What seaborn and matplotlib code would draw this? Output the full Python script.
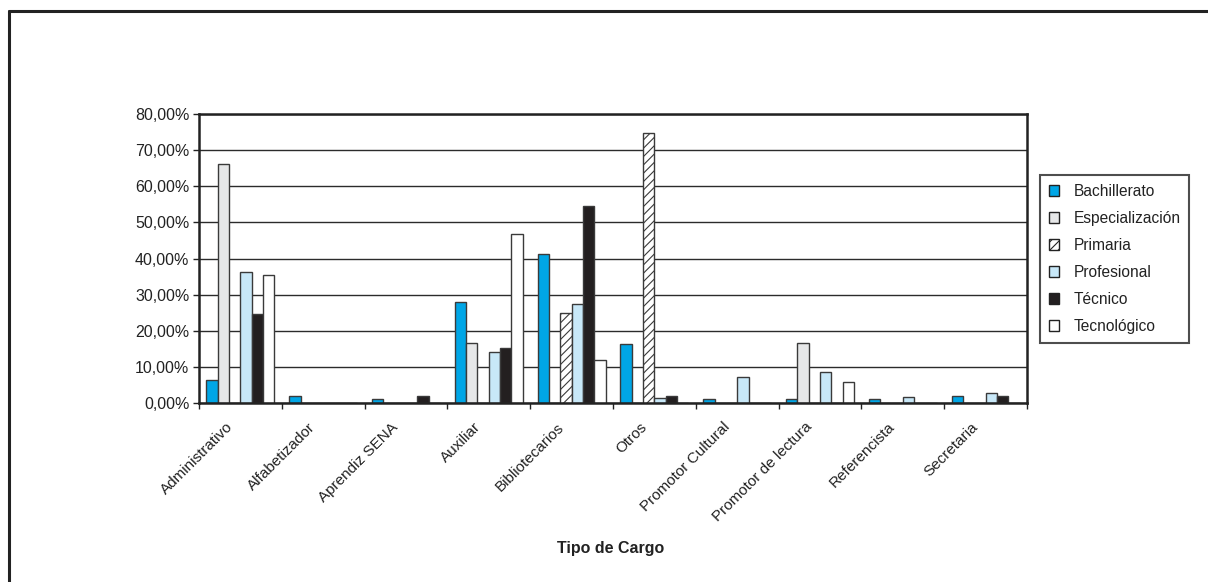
import matplotlib
matplotlib.use("Agg")
import matplotlib.pyplot as plt
import seaborn as sns
import pandas as pd
import numpy as np
from matplotlib.patches import Patch
from matplotlib.lines import Line2D
from matplotlib.ticker import FuncFormatter, FixedLocator

categories = ["Administrativo", "Alfabetizador", "Aprendiz SENA", "Auxiliar",
              "Bibliotecarios", "Otros", "Promotor Cultural", "Promotor de lectura",
              "Referencista", "Secretaria"]
series = ["Bachillerato", "Especialización", "Primaria", "Profesional", "Técnico", "Tecnológico"]

bachillerato    = [6.5, 2.0, 1.1, 27.9, 41.3, 16.3, 1.1, 1.1, 1.1, 2.0]
especializacion = [66.3, 0.0, 0.0, 16.6, 0.0, 0.0, 0.0, 16.6, 0.0, 0.0]
primaria        = [0.0, 0.0, 0.0, 0.0, 25.1, 74.7, 0.0, 0.0, 0.0, 0.0]
profesional     = [36.3, 0.0, 0.0, 14.3, 27.4, 1.4, 7.2, 8.7, 1.7, 2.8]
tecnico         = [24.8, 0.0, 2.1, 15.2, 54.6, 2.1, 0.0, 0.0, 0.0, 2.1]
tecnologico     = [35.5, 0.0, 0.0, 46.9, 12.0, 0.0, 0.0, 5.9, 0.0, 0.0]

colors = ["#00A6E6", "#E6E7E8", "#FFFFFF", "#C8E8F8", "#231F20", "#FFFFFF"]
hatches = ["", "", "////", "", "", ""]

values = [bachillerato, especializacion, primaria, profesional, tecnico, tecnologico]
rows = []
for s, vals in zip(series, values):
    for c, v in zip(categories, vals):
        rows.append({"Tipo de Cargo": c, "Serie": s, "Valor": v})
df = pd.DataFrame(rows)

sns.set_theme(style="white")
plt.rcParams["font.family"] = ["Liberation Sans", "DejaVu Sans"]
plt.rcParams["hatch.color"] = "#555555"
plt.rcParams["hatch.linewidth"] = 0.8

W, H = 1208, 582
fig = plt.figure(figsize=(W / 100, H / 100), dpi=100)
ax = fig.add_axes([199 / W, 1 - 403.3 / H, (1027 - 199) / W, (403.3 - 114) / H])

sns.barplot(data=df, x="Tipo de Cargo", y="Valor", hue="Serie", order=categories,
            hue_order=series, palette=colors, width=0.82, ax=ax,
            edgecolor="#3a3a3a", linewidth=1.0, saturation=1, legend=False, errorbar=None)

n = len(categories)
for i, container in enumerate(ax.containers):
    for bar in container:
        bar.set_hatch(hatches[i])

ax.set_ylim(0, 80)
ax.set_xlim(-0.5, n - 0.5)
ax.set_yticks(np.arange(0, 81, 10))
ax.yaxis.set_major_formatter(FuncFormatter(lambda v, p: f"{v:.2f}%".replace(".", ",")))
ax.yaxis.grid(True, color="#2b2b2b", linewidth=1.0)
ax.set_axisbelow(True)

ax.set_xticks(np.arange(n) - 0.18)
ax.set_xticklabels(categories, rotation=45, ha="right", rotation_mode="anchor",
                   fontsize=11, color="#222222")
ax.tick_params(axis="x", which="major", length=0, pad=12)
ax.xaxis.set_minor_locator(FixedLocator(np.arange(-0.5, n, 1.0)))
ax.tick_params(axis="x", which="minor", length=4, width=1, color="#222222", direction="out", bottom=True)
ax.tick_params(axis="y", length=4, width=1, color="#222222", direction="out", left=True,
               labelsize=11.5, labelcolor="#222222", pad=3)
ax.set_xlabel("")
ax.set_ylabel("")

for sp in ax.spines.values():
    sp.set_visible(True)
    sp.set_color("#222222")
    sp.set_linewidth(1.8)

fig.text(611 / W, 1 - 549 / H, "Tipo de Cargo", ha="center", va="center",
         fontsize=11.5, fontweight="bold", color="#222222")

handles = [Patch(facecolor=c, edgecolor="#222222", hatch=h, linewidth=1.0)
           for c, h in zip(colors, hatches)]
leg = fig.legend(handles, series, loc="upper left",
                 bbox_to_anchor=(1040 / W, 1 - 175 / H), frameon=True, fontsize=11.2,
                 handlelength=0.7, handleheight=0.7, handletextpad=0.9,
                 labelspacing=0.78, borderpad=0.55, fancybox=False, borderaxespad=0,
                 labelcolor="#222222")
leg.get_frame().set_edgecolor("#222222")
leg.get_frame().set_linewidth(1.5)

# outer frame (left & top visible)
fig.add_artist(Line2D([8.5 / W, 8.5 / W], [0, 1 - 11 / H], color="#222222", linewidth=2.2,
                      transform=fig.transFigure))
fig.add_artist(Line2D([8.5 / W, 1], [1 - 11 / H, 1 - 11 / H], color="#222222", linewidth=2.2,
                      transform=fig.transFigure))

fig.savefig("out.png", dpi=100, facecolor="white")
